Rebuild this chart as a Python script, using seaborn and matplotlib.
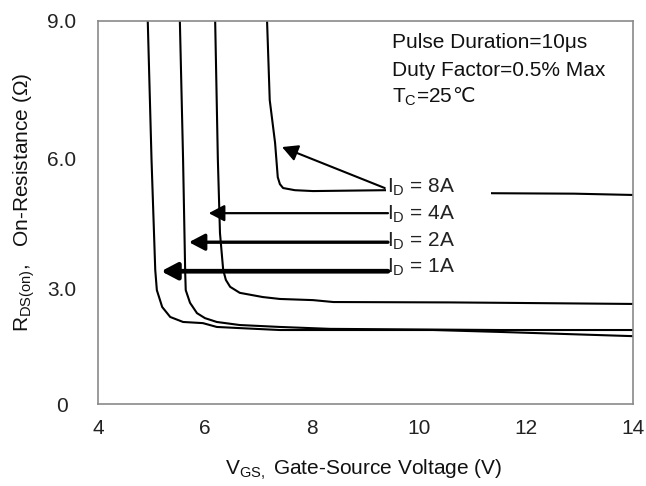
import numpy as np
import pandas as pd
import matplotlib
matplotlib.use("Agg")
import matplotlib.pyplot as plt
import seaborn as sns
from matplotlib.patches import Rectangle

# ---------------- data ----------------
vgs_1A = [4.93, 5.00, 5.07, 5.10, 5.20, 5.35, 5.59, 5.96, 6.22, 6.65, 7.40, 10.26, 11.51, 14.0]
rds_1A = [9.0, 6.0, 3.44, 2.97, 2.53, 2.27, 2.14, 2.11, 2.01, 1.98, 1.93, 1.93, 1.88, 1.77]

vgs_2A = [5.53, 5.59, 5.63, 5.64, 5.72, 5.85, 6.00, 6.22, 6.65, 7.40, 8.34, 11.51, 14.0]
rds_2A = [9.0, 6.0, 3.37, 2.97, 2.64, 2.37, 2.24, 2.14, 2.06, 2.01, 1.96, 1.93, 1.93]

vgs_4A = [6.19, 6.24, 6.28, 6.34, 6.39, 6.47, 6.65, 7.08, 7.40, 8.02, 8.40, 10.58, 11.51, 14.0]
rds_4A = [9.0, 6.0, 4.29, 3.44, 3.21, 3.05, 2.90, 2.79, 2.74, 2.71, 2.66, 2.65, 2.64, 2.61]

vgs_8A = [7.16, 7.21, 7.31, 7.36, 7.40, 7.46, 7.68, 8.02, 9.36, 11.38, 12.90, 14.0]
rds_8A = [9.0, 7.28, 6.35, 5.58, 5.42, 5.33, 5.28, 5.26, 5.28, 5.21, 5.20, 5.17]

label_texts = [r"I$_\mathrm{D}$ = 8A", r"I$_\mathrm{D}$ = 4A",
               r"I$_\mathrm{D}$ = 2A", r"I$_\mathrm{D}$ = 1A"]
label_x = [9.40, 9.40, 9.40, 9.40]
label_y = [5.215, 4.59, 3.97, 3.37]
arrow_tail_x = [9.36, 9.42, 9.42, 9.42]
arrow_tail_y = [5.33, 4.75, 4.08, 3.41]
arrow_tip_x = [7.44, 6.07, 5.70, 5.18]
arrow_tip_y = [6.26, 4.75, 4.08, 3.41]
arrow_lw = [1.5, 1.6, 2.4, 3.4]

x_ticks = [4, 6, 8, 10, 12, 14]
x_ticklabels = ["4", "6", "8", "10", "12", "14"]
y_ticks = [0, 3, 6, 9]
y_ticklabels = ["0", "3.0", "6.0", "9.0"]
x_grid = [6, 8, 10, 12]
y_grid = [3, 6]

note_lines = ["Pulse Duration=10\u03bcs", "Duty Factor=0.5% Max", r"T$_\mathrm{C}$=25"]
degree_sign = "\u2103"

# ---------------- build data frame ----------------
frames = []
for name, vx, vy in [("1A", vgs_1A, rds_1A), ("2A", vgs_2A, rds_2A),
                     ("4A", vgs_4A, rds_4A), ("8A", vgs_8A, rds_8A)]:
    frames.append(pd.DataFrame({"vgs": vx, "rds": vy, "id": name}))
df = pd.concat(frames, ignore_index=True)

# ---------------- style ----------------
sns.set_style("white")
plt.rcParams["font.family"] = ["Liberation Sans", "DejaVu Sans"]
plt.rcParams["mathtext.fontset"] = "custom"
plt.rcParams["mathtext.rm"] = "Liberation Sans"
plt.rcParams["mathtext.it"] = "Liberation Sans:italic"
plt.rcParams["mathtext.bf"] = "Liberation Sans:bold"

W, H = 646, 486
fig = plt.figure(figsize=(W / 100, H / 100), dpi=100)
ax = fig.add_axes([98 / W, 1 - 404 / H, 535 / W, 383 / H])

# the printed y grid is unevenly spaced; reproduce it with a piecewise-linear scale
_yv = [-1000.0, 0.0, 3.0, 6.0, 9.0, 1000.0]
_yp = [-1000.0 * 115 / 3, 0.0, 115.0, 245.0, 383.0, 383.0 + 991.0 * 138 / 3]


def _fwd(v):
    return np.interp(v, _yv, _yp)


def _inv(p):
    return np.interp(p, _yp, _yv)


ax.set_yscale("function", functions=(_fwd, _inv))

for name in ["1A", "2A", "4A", "8A"]:
    sns.lineplot(data=df[df["id"] == name], x="vgs", y="rds", sort=False,
                 color="black", lw=1.5, ax=ax, legend=False, zorder=2)

ax.set_xlim(4, 14)
ax.set_ylim(0, 9)
ax.set_xticks(x_ticks)
ax.set_xticklabels(x_ticklabels)
ax.set_yticks(y_ticks)
ax.set_yticklabels(y_ticklabels)
ax.set_xticks(x_grid, minor=True)
ax.set_yticks(y_grid, minor=True)
ax.grid(False)
ax.grid(True, which="minor", color="black", lw=0.9)
ax.set_axisbelow(True)
ax.tick_params(which="both", length=0)
ax.tick_params(axis="x", pad=11, labelsize=15, labelcolor="#222222")
ax.tick_params(axis="y", pad=26, labelsize=15, labelcolor="#222222")
for lab in ax.get_yticklabels():
    lab.set_ha("center")

for sp in ax.spines.values():
    sp.set_color("#8a8a8a")
    sp.set_linewidth(1.2)

ax.set_xlabel(r"V$_\mathrm{GS,}$ Gate-Source Voltage (V)", fontsize=15, color="#111111")
ax.xaxis.label.set_va("center")
ax.xaxis.set_label_coords((364 - 98) / 535, (404 - 470) / 383)
ax.set_ylabel(r"R$_\mathrm{DS(on)}$,   On-Resistance ($\Omega$)", fontsize=15, color="#111111")
ax.yaxis.label.set_va("center")
ax.yaxis.set_label_coords((24 - 98) / 535, (404 - 202) / 383)

# white cover boxes behind the annotation texts
ax.add_patch(Rectangle(((390 - 98) / 535, (404 - 104) / 383), (620 - 390) / 535, (104 - 25) / 383,
                       transform=ax.transAxes, facecolor="white", edgecolor="none", zorder=2.2))
ax.add_patch(Rectangle(((386 - 98) / 535, (404 - 287) / 383), (491 - 386) / 535, (287 - 178) / 383,
                       transform=ax.transAxes, facecolor="white", edgecolor="none", zorder=2.2))

note_y_px = [43, 70, 97]
note_objs = []
for txt, py in zip(note_lines, note_y_px):
    note_objs.append(ax.text((392 - 98) / 535, (404 - py) / 383, txt, transform=ax.transAxes,
                             fontsize=15, color="#111111", ha="left", va="center", zorder=3))

# degree-Celsius sign right after "T_C=25" (Liberation Sans lacks this glyph)
fig.canvas.draw()
_bb = note_objs[2].get_window_extent(renderer=fig.canvas.get_renderer())
_yc = ax.transAxes.transform((0, (404 - 97) / 383))[1]
fig.text(_bb.x1 / fig.bbox.width, _yc / fig.bbox.height, degree_sign,
         family=["DejaVu Sans", "Noto Sans CJK SC"], fontsize=14.5, color="#111111",
         ha="left", va="center", zorder=3)

for txt, lx, ly in zip(label_texts, label_x, label_y):
    ax.text(lx, ly, txt, fontsize=15, color="#222222", ha="left", va="baseline", zorder=3)

for tx, ty, hx, hy, lw in zip(arrow_tail_x, arrow_tail_y, arrow_tip_x, arrow_tip_y, arrow_lw):
    ax.annotate("", xy=(hx, hy), xytext=(tx, ty),
                arrowprops=dict(arrowstyle="-|>,head_length=0.95,head_width=0.5",
                                lw=lw, color="black", shrinkA=0, shrinkB=0,
                                mutation_scale=10),
                zorder=3.5)

fig.savefig("out.png", dpi=100)
